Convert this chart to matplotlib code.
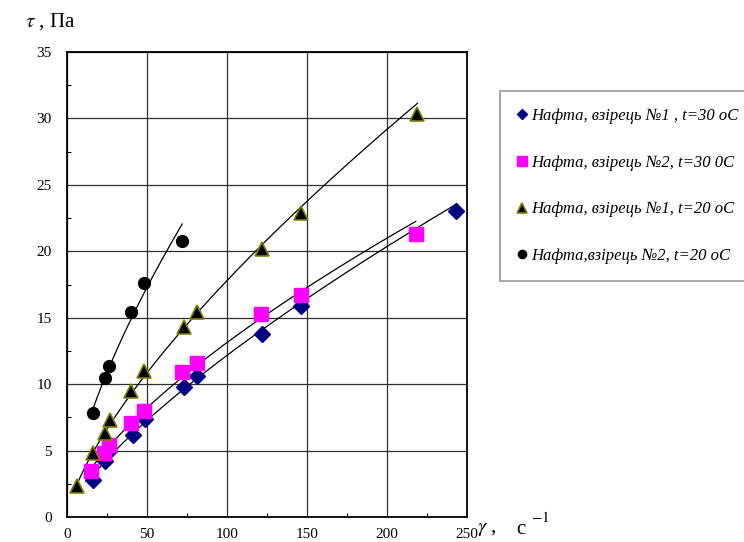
import numpy as np
import matplotlib
matplotlib.use("Agg")
import matplotlib.pyplot as plt
from matplotlib.ticker import MultipleLocator

plt.rcParams["font.family"] = ["Liberation Serif", "DejaVu Serif"]
plt.rcParams["mathtext.fontset"] = "stix"

# sample 1, 30 C
x_s1_30 = [16, 24, 26, 41, 49, 73, 81, 122, 146, 243]
y_s1_30 = [2.8, 4.2, 5.0, 6.2, 7.4, 9.8, 10.6, 13.8, 15.9, 23.0]
# sample 2, 30 C
x_s2_30 = [15, 23, 26, 40, 48, 72, 81, 121, 146, 218]
y_s2_30 = [3.5, 4.8, 5.4, 7.1, 8.0, 10.9, 11.6, 15.3, 16.7, 21.3]
# sample 1, 20 C
x_s1_20 = [6, 16, 24, 27, 40, 48, 73, 81, 122, 146, 219]
y_s1_20 = [2.3, 4.8, 6.3, 7.3, 9.5, 11.0, 14.3, 15.4, 20.2, 22.9, 30.3]
# sample 2, 20 C
x_s2_20 = [16, 24, 26, 40, 48, 72]
y_s2_20 = [7.8, 10.5, 11.4, 15.4, 17.6, 20.8]

labels = [
    "Нафта, взірець №1 , t=30 oC",
    "Нафта, взірець №2, t=30 0C",
    "Нафта, взірець №1, t=20 oC",
    "Нафта,взірець №2, t=20 oC",
]

series = [
    (x_s1_30, y_s1_30, dict(marker="D", color="#000080", ms=8, mec="#000080")),
    (x_s2_30, y_s2_30, dict(marker="s", color="#FF00FF", ms=9.5, mec="#FF00FF")),
    (x_s1_20, y_s1_20, dict(marker="^", color="black", ms=10.5, mec="#808000", mew=1.2)),
    (x_s2_20, y_s2_20, dict(marker="o", color="black", ms=8.5, mec="black")),
]

fig = plt.figure(figsize=(7.44, 5.42), dpi=100)
ax = fig.add_axes([67 / 744, 1 - 517 / 542, 400 / 744, 465 / 542])

handles = []
for (xs, ys, st), lab in zip(series, labels):
    xs = np.array(xs, float)
    ys = np.array(ys, float)
    # power trendline fitted to the points (Excel style)
    b, lna = np.polyfit(np.log(xs), np.log(ys), 1)
    xf = np.linspace(xs.min(), xs.max(), 200)
    ax.plot(xf, np.exp(lna) * xf ** b, color="black", lw=0.9, zorder=3)
    h, = ax.plot(xs, ys, ls="none", label=lab, zorder=4, **st)
    handles.append(h)

ax.set_xlim(0, 250)
ax.set_ylim(0, 35)
ax.xaxis.set_major_locator(MultipleLocator(50))
ax.xaxis.set_minor_locator(MultipleLocator(25))
ax.yaxis.set_major_locator(MultipleLocator(5))
ax.yaxis.set_minor_locator(MultipleLocator(2.5))
ax.grid(True, which="major", color="#303030", lw=0.9)
ax.tick_params(which="both", direction="in", labelsize=11, length=0, pad=8)
ax.tick_params(which="minor", length=3, width=0.8)
ax.tick_params(axis="y", pad=11)
for s in ax.spines.values():
    s.set_linewidth(1.3)
ax.set_axisbelow(True)

fig.text(25 / 744, 1 - 22 / 542, r"$\tau$ , Па", fontsize=15, va="center", ha="left")
fig.text(477 / 744, 1 - 529 / 542, r"$\gamma$ ,", fontsize=15, va="center", ha="left")
fig.text(516 / 744, 1 - 529 / 542, "c", fontsize=15, va="center", ha="left")
fig.text(531 / 744, 1 - 518 / 542, r"$-1$", fontsize=11, va="center", ha="left")

leg = fig.legend(handles=handles, loc="upper left", bbox_to_anchor=(500 / 744, 1 - 91 / 542),
                 prop=dict(style="italic", size=12), frameon=True, fancybox=False,
                 borderaxespad=0, handlelength=0.6, handletextpad=0.25, labelspacing=1.85,
                 borderpad=1.0, markerscale=0.7)
leg.get_frame().set_edgecolor("#808080")
leg.get_frame().set_linewidth(1.2)

fig.savefig("out.png", dpi=100)
